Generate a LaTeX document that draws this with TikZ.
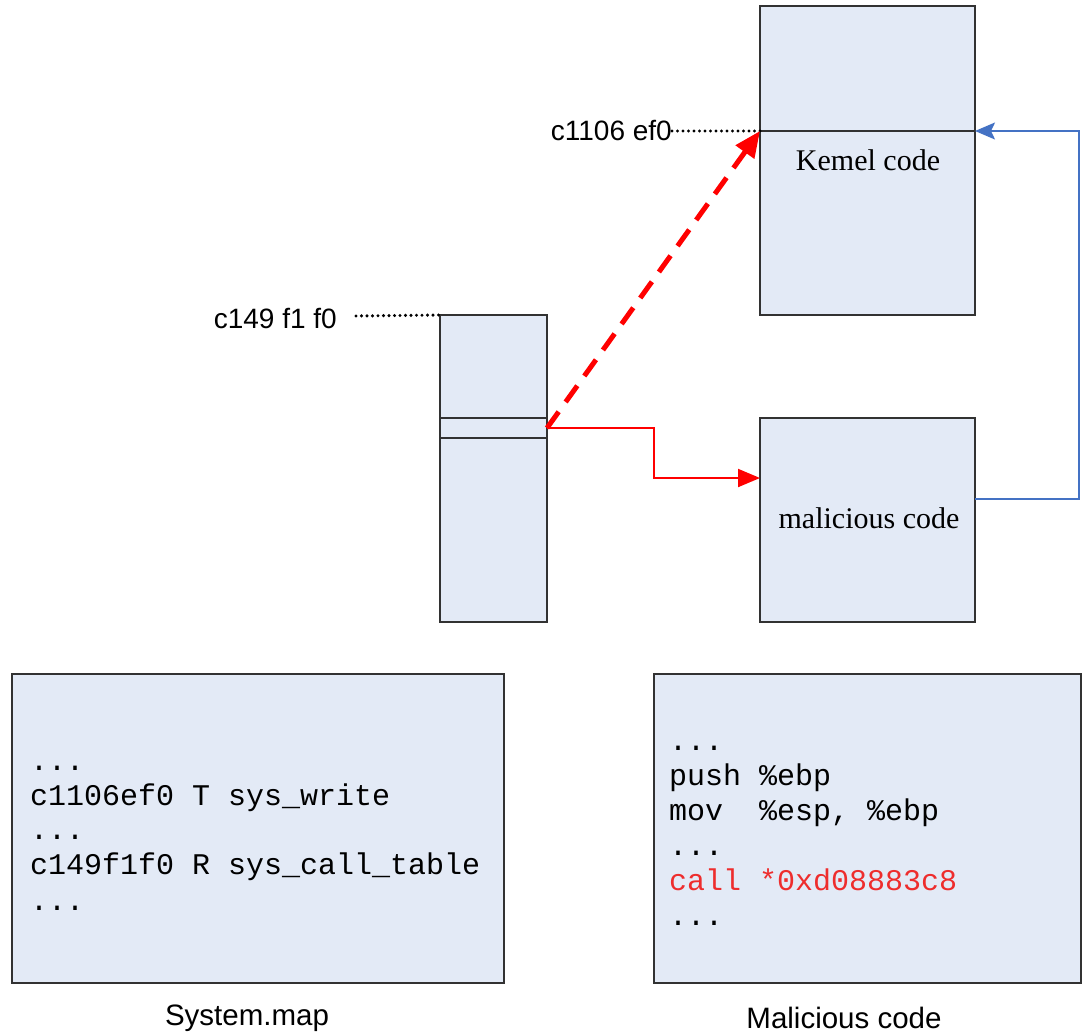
\documentclass[tikz,border=0pt]{standalone}
\usepackage{fontspec}
\setmainfont{Liberation Serif}
\setsansfont{Liberation Sans}
\setmonofont{Liberation Mono}
\usetikzlibrary{arrows.meta,calc}
\definecolor{boxfill}{RGB}{227,234,246}
\definecolor{boxline}{RGB}{50,50,50}
\definecolor{arrblue}{RGB}{68,114,196}
\definecolor{codered}{RGB}{238,45,45}
\begin{document}
\begin{tikzpicture}[x=1pt,y=-1pt,
  box/.style={draw=boxline,fill=boxfill,line width=1.6pt,inner sep=0pt,outer sep=0pt,anchor=north west},
  bigbox/.style={box,line width=2.4pt},
  serifl/.style={font=\fontsize{30}{34}\selectfont,inner sep=0pt,anchor=base},
  addr/.style={font=\sffamily\fontsize{28}{32}\selectfont,inner sep=0pt},
  caption/.style={font=\sffamily\fontsize{29.5}{34}\selectfont,inner sep=0pt,anchor=base},
  code/.style={font=\ttfamily\fontsize{30}{35}\selectfont,inner sep=0pt,anchor=base west},
  dots/.style={line width=3.4pt,line cap=round,dash pattern=on 0pt off 5.5pt},
  redthick/.style={draw=red,line width=5pt,dash pattern=on 20pt off 12pt,-{Triangle[length=26pt,width=22pt]}},
  redthin/.style={draw=red,line width=2pt,-{Triangle[length=22pt,width=18pt]}},
  bluearr/.style={draw=arrblue,line width=1.6pt,-{Stealth[length=20pt,width=17pt,inset=4pt]}}
]
\useasboundingbox (0,0) rectangle (1084,1034);

% Kernel code box
\node[box,minimum width=215pt,minimum height=309pt] (kern) at (760,6) {};
\coordinate (kaddrL) at (760,131);
\coordinate (kaddrR) at (975,131);
\draw[boxline,line width=1.6pt] (kaddrL) -- (kaddrR);
\node[serifl] (kerntxt) at (868,170) {Kemel code};

% syscall table box
\node[box,minimum width=107pt,minimum height=307pt] (table) at (440,315) {};
\coordinate (slotTL) at (440,418);
\coordinate (slotTR) at (547,418);
\coordinate (slotBL) at (440,438);
\coordinate (slotBR) at (547,438);
\coordinate (slot) at (547,428);
\draw[boxline,line width=1.6pt] (slotTL) -- (slotTR);
\draw[boxline,line width=1.6pt] (slotBL) -- (slotBR);

% malicious code box
\node[box,minimum width=215pt,minimum height=204pt] (mal) at (760,418) {};
\node[serifl] (maltxt) at (869,528) {malicious code};
\coordinate (malin) at (760,478);
\coordinate (malout) at (975,499);

% address labels
\node[addr,anchor=east] (lab1) at (672,131) {c1106 ef0};
\draw[dots] (lab1.east) -- (kaddrL);
\node[addr,anchor=east] (lab2) at (337,318) {c149 f1 f0};
\coordinate (dot2start) at (356,316);
\draw[dots] (dot2start) -- (table.north west);

% arrows
\draw[redthick] (slot) -- (kaddrL);
\draw[redthin] (slot) -- (654,428) -- (654,478) -- (malin);
\draw[bluearr] (malout) -- (1079,499) -- (1079,131) -- (kaddrR);

% System.map box
\node[bigbox,minimum width=492pt,minimum height=309pt] (sysmap) at (12,674) {};
\node[code] (sm1) at (30,770) {...};
\node[code] (sm2) at (30,805) {c1106ef0 T sys\_write};
\node[code] (sm3) at (30,839) {...};
\node[code] (sm4) at (30,874) {c149f1f0 R sys\_call\_table};
\node[code] (sm5) at (30,910) {...};
\node[caption] (smcap) at (247,1025) {System.map};

% Malicious code box
\node[bigbox,minimum width=427pt,minimum height=309pt] (malcode) at (654,674) {};
\node[code] (mc1) at (669,750) {...};
\node[code] (mc2) at (669,785) {push \%ebp};
\node[code] (mc3) at (669,820) {mov\ \ \%esp, \%ebp};
\node[code] (mc4) at (669,855) {...};
\node[code,text=codered] (mc5) at (669,890) {call *0xd08883c8};
\node[code] (mc6) at (669,925) {...};
\node[caption] (mccap) at (844,1028) {Malicious code};
\end{tikzpicture}
\end{document}
